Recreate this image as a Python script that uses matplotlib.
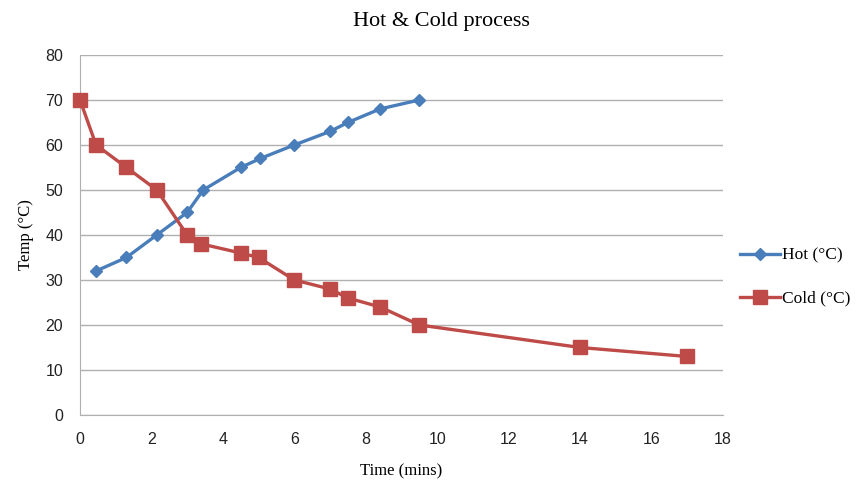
import matplotlib as mpl
mpl.use('Agg')
import matplotlib.pyplot as plt
from matplotlib.lines import Line2D

# data
hot_t = [0.45, 1.3, 2.15, 3.0, 3.45, 4.5, 5.05, 6.0, 7.0, 7.5, 8.4, 9.5]
hot_v = [32, 35, 40, 45, 50, 55, 57, 60, 63, 65, 68, 70]
cold_t = [0, 0.45, 1.3, 2.15, 3.0, 3.4, 4.5, 5.0, 6.0, 7.0, 7.5, 8.4, 9.5, 14, 17]
cold_v = [70, 60, 55, 50, 40, 38, 36, 35, 30, 28, 26, 24, 20, 15, 13]
xticks = list(range(0, 19, 2))
yticks = list(range(0, 81, 10))

BLUE = '#4A7EBB'; RED = '#BE4B48'; GRID = '#B0B0B0'
SERIF = ['Liberation Serif', 'DejaVu Serif']
NARROW = ['Liberation Sans Narrow', 'Liberation Sans', 'DejaVu Sans']

fig = plt.figure(figsize=(8.63, 4.82), dpi=100, facecolor='white')
ax = fig.add_axes([0.0927, 0.139, 0.745, 0.747])
ax.plot(hot_t, hot_v, color=BLUE, lw=2.4, marker='D', ms=6.5, mfc=BLUE, mec=BLUE, zorder=3, clip_on=False)
ax.plot(cold_t, cold_v, color=RED, lw=2.4, marker='s', ms=10, mfc=RED, mec=RED, zorder=3, clip_on=False)
ax.set_xlim(0, 18); ax.set_ylim(0, 80)
ax.set_xticks(xticks); ax.set_yticks(yticks)
ax.yaxis.grid(True, color=GRID, lw=1)
ax.set_axisbelow(True)
for s in ('top', 'right'):
    ax.spines[s].set_visible(False)
for s in ('left', 'bottom'):
    ax.spines[s].set_color(GRID)
ax.tick_params(length=0, pad=12, labelsize=11.5, labelcolor='#222222')
for lab in ax.get_xticklabels() + ax.get_yticklabels():
    lab.set_family(NARROW)
ax.set_xlabel('Time (mins)', family=SERIF, fontsize=12, labelpad=12)
ax.set_ylabel('Temp (°C)', family=SERIF, fontsize=12, labelpad=8)
fig.text(0.512, 0.955, 'Hot & Cold process', family=SERIF, fontsize=16, ha='center', va='center')

handles = [Line2D([], [], color=BLUE, lw=2.4, marker='D', ms=6.5),
           Line2D([], [], color=RED, lw=2.4, marker='s', ms=10)]
fig.legend(handles, ['Hot (°C)', 'Cold (°C)'], loc='center left', bbox_to_anchor=(0.858, 0.425),
           frameon=False, prop={'family': SERIF, 'size': 12.5}, handlelength=2.3,
           handletextpad=0.1, labelspacing=1.55, borderpad=0, borderaxespad=0)
fig.savefig('out.png', dpi=100, facecolor='white')
